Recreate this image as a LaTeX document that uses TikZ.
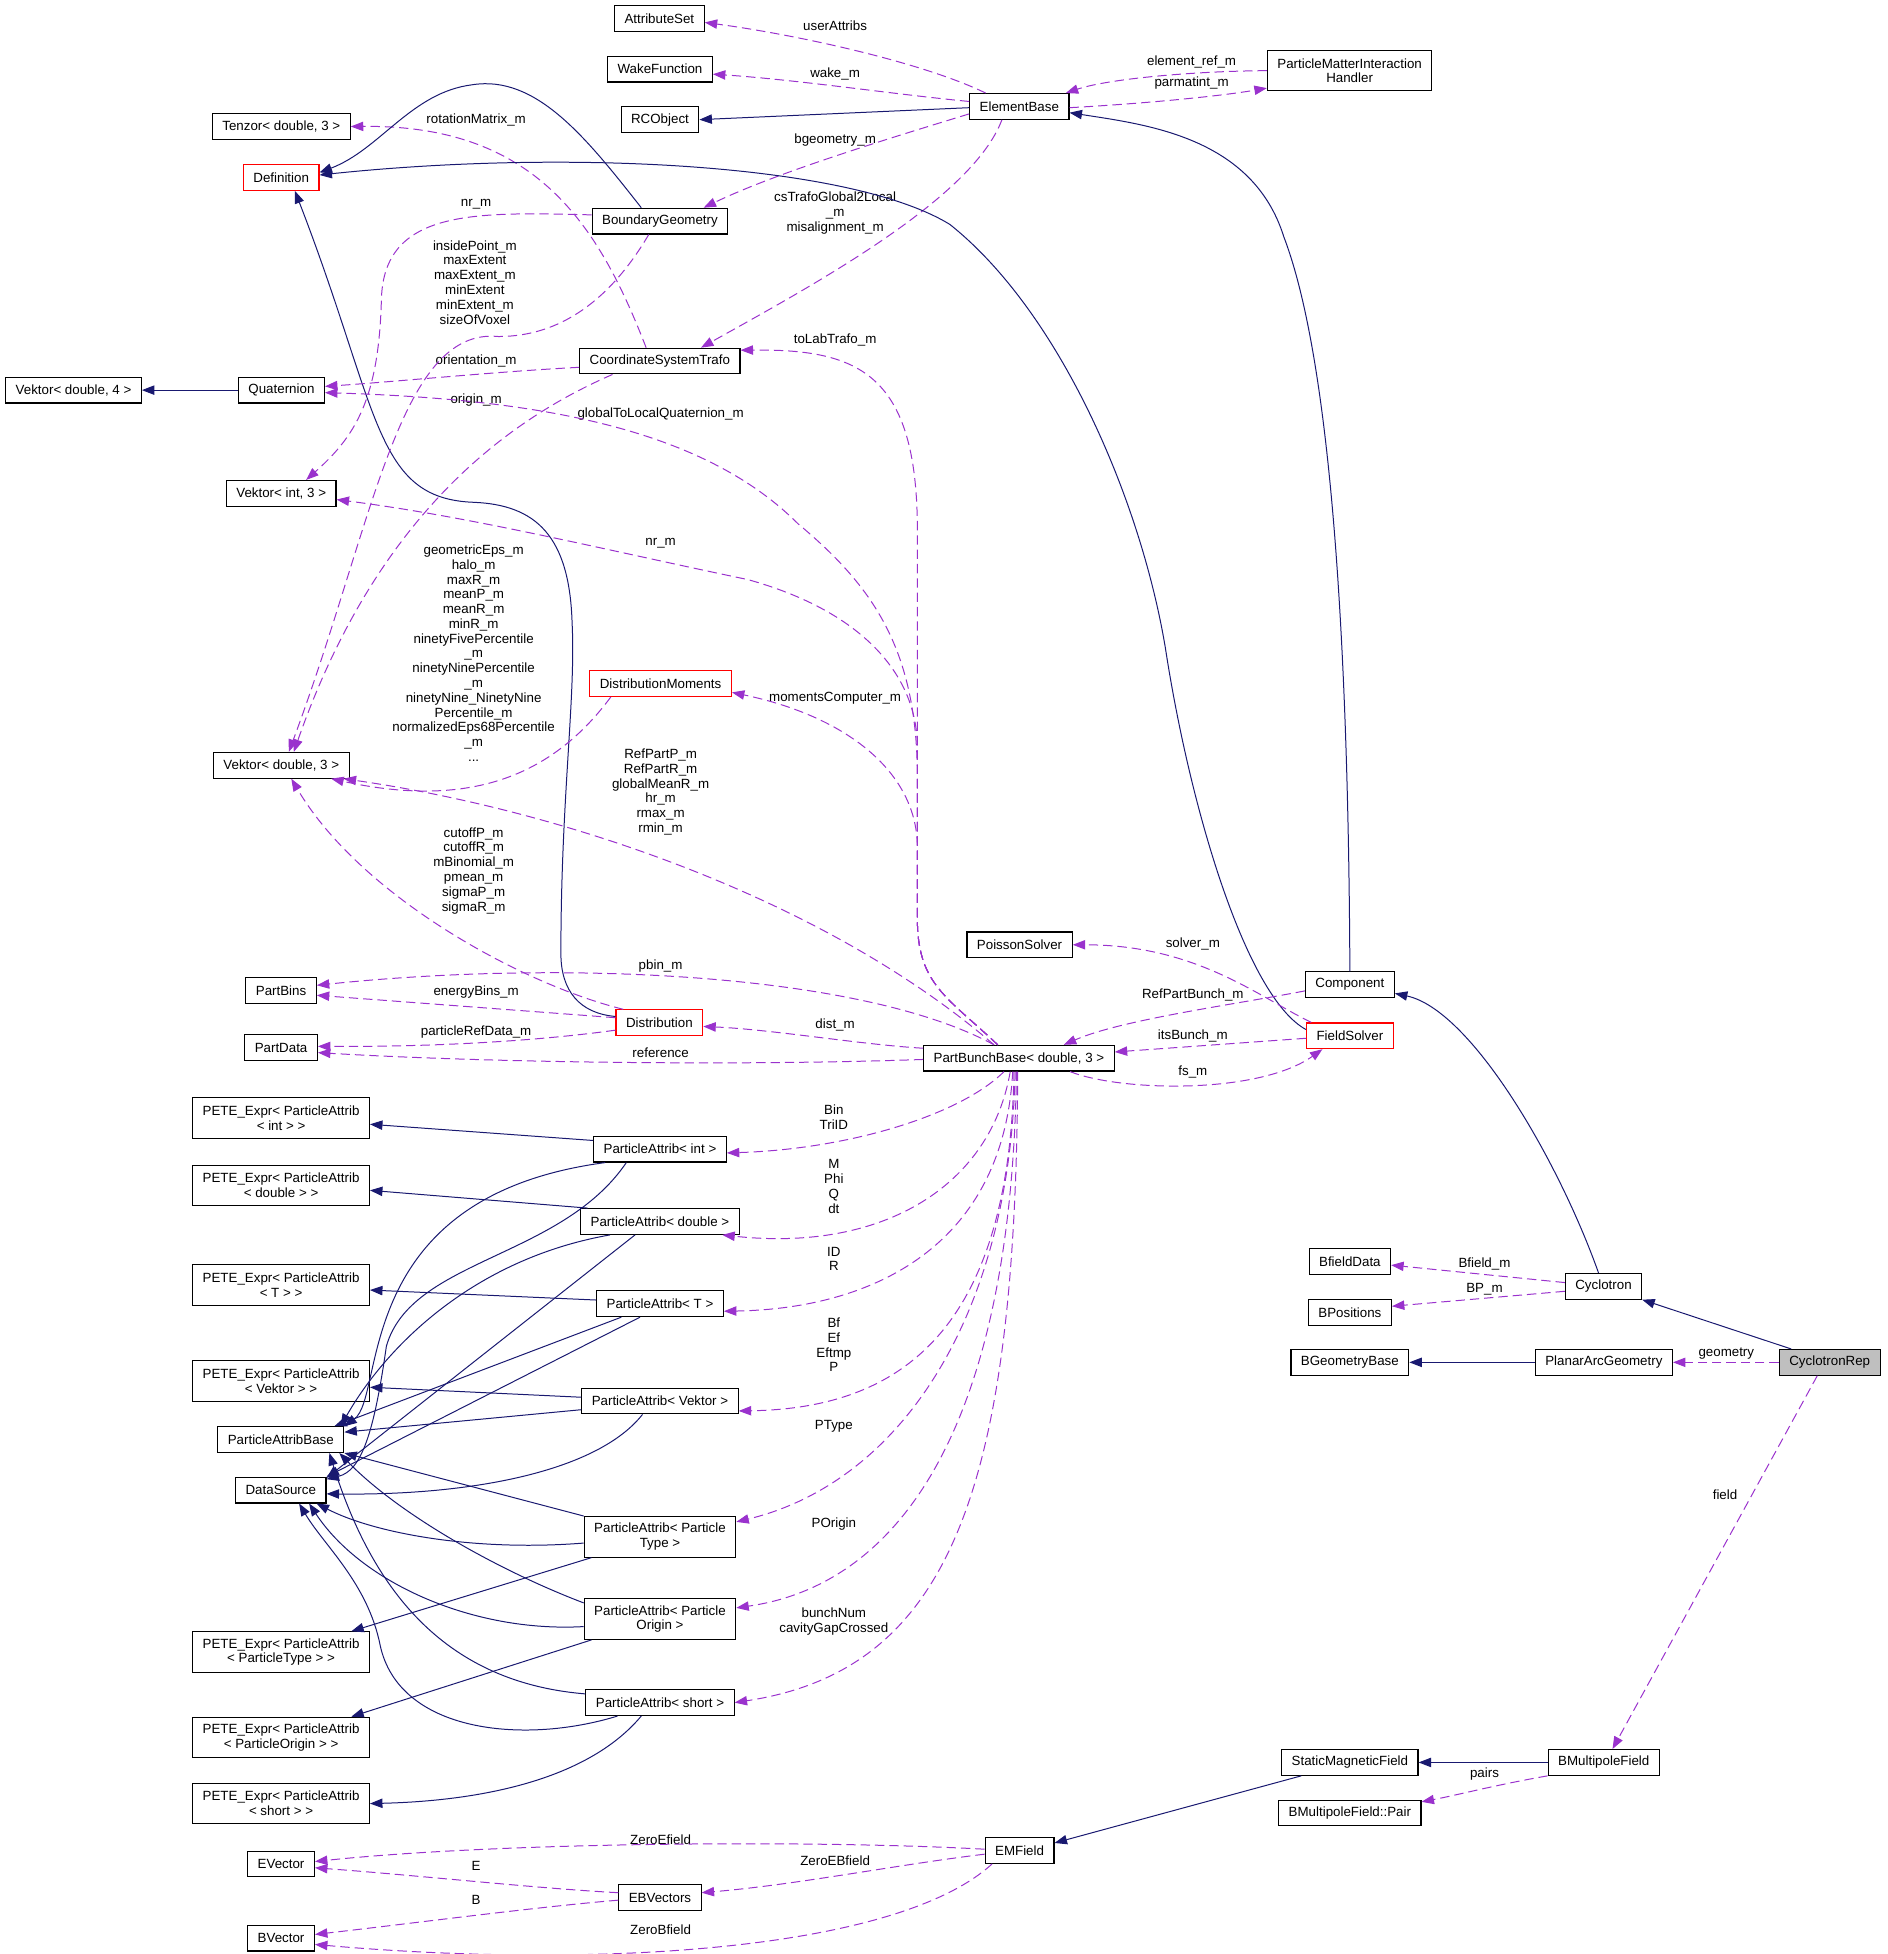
\documentclass[tikz,border=0pt]{standalone}
\usepackage{fontspec}
\setmainfont{Liberation Sans}
\usetikzlibrary{arrows.meta}
\definecolor{inhblue}{HTML}{191970}
\definecolor{usepurple}{HTML}{9A32CD}
\definecolor{docred}{HTML}{FF0000}
\definecolor{curgray}{HTML}{BFBFBF}

\begin{document}
\begin{tikzpicture}[
    x=1pt, y=-1pt,
    font=\fontsize{10.7}{11.86}\selectfont,
    cls/.style={draw=black, line width=0.9pt, fill=white, inner xsep=8pt, inner ysep=0pt, minimum height=20.6pt, align=center},
    cls2/.style={cls, minimum height=32.5pt},
    reddoc/.style={cls, draw=docred},
    current/.style={cls, fill=curgray},
    lbl/.style={inner sep=0pt, align=center},
    inh/.style={draw=inhblue, line width=0.8pt, -{Triangle[length=10pt,width=7.5pt]}},
    uses/.style={draw=usepurple, line width=0.8pt, dash pattern=on 7.5pt off 4pt, -{Triangle[length=10pt,width=7.5pt]}}
]
    \useasboundingbox (0,0) rectangle (1514,1567.7);

    \node[cls] (attrset) at (529,15) {AttributeSet};
    \node[cls] (wakefn) at (529.5,55.5) {WakeFunction};
    \node[cls] (rcobj) at (529.5,96) {RCObject};
    \node[cls] (elembase) at (817.8,85.4) {ElementBase};
    \node[cls2] (pmihandler) at (1082.8,56.7) {ParticleMatterInteraction\\Handler};
    \node[cls] (tenzor) at (225.7,101.5) {Tenzor< double, 3 >};
    \node[reddoc] (defn) at (225.6,142.4) {Definition};
    \node[cls] (boundgeo) at (529.5,177.4) {BoundaryGeometry};
    \node[cls] (cstrafo) at (529.4,289.7) {CoordinateSystemTrafo};
    \node[cls] (vekdfour) at (59,313) {Vektor< double, 4 >};
    \node[cls] (quat) at (225.8,313) {Quaternion};
    \node[cls] (vekithree) at (225.6,395.8) {Vektor< int, 3 >};
    \node[cls] (vekdthree) at (225.7,614) {Vektor< double, 3 >};
    \node[reddoc] (distmom) at (530,548.5) {DistributionMoments};
    \node[cls] (poisson) at (818,758) {PoissonSolver};
    \node[cls] (component) at (1083,790) {Component};
    \node[reddoc] (fieldsolver) at (1083,831) {FieldSolver};
    \node[cls] (partbins) at (225.5,794.5) {PartBins};
    \node[reddoc] (distrib) at (529,820.5) {Distribution};
    \node[cls] (partdata) at (225.5,840.5) {PartData};
    \node[cls] (partbunch) at (817.5,849) {PartBunchBase< double, 3 >};
    \node[cls2] (peteint) at (225.5,897) {PETE\_Expr< ParticleAttrib\\< int > >};
    \node[cls] (paint) at (529.5,922) {ParticleAttrib< int >};
    \node[cls2] (petedouble) at (225.5,951) {PETE\_Expr< ParticleAttrib\\< double > >};
    \node[cls] (padouble) at (529.5,980) {ParticleAttrib< double >};
    \node[cls2] (petet) at (225.5,1031) {PETE\_Expr< ParticleAttrib\\< T > >};
    \node[cls] (pat) at (529.5,1046) {ParticleAttrib< T >};
    \node[cls2] (petevek) at (225.5,1108) {PETE\_Expr< ParticleAttrib\\< Vektor > >};
    \node[cls] (pavek) at (529.5,1124) {ParticleAttrib< Vektor >};
    \node[cls] (pabase) at (225.3,1155) {ParticleAttribBase};
    \node[cls] (datasrc) at (225.3,1195.5) {DataSource};
    \node[cls2] (patype) at (529.5,1233) {ParticleAttrib< Particle\\Type >};
    \node[cls2] (paorigin) at (529.5,1299) {ParticleAttrib< Particle\\Origin >};
    \node[cls2] (petetype) at (225.5,1325.5) {PETE\_Expr< ParticleAttrib\\< ParticleType > >};
    \node[cls] (pashort) at (529.5,1366) {ParticleAttrib< short >};
    \node[cls2] (peteorigin) at (225.5,1394) {PETE\_Expr< ParticleAttrib\\< ParticleOrigin > >};
    \node[cls2] (peteshort) at (225.5,1447) {PETE\_Expr< ParticleAttrib\\< short > >};
    \node[cls] (evector) at (225.5,1495.5) {EVector};
    \node[cls] (ebvectors) at (529.5,1522.5) {EBVectors};
    \node[cls] (bvector) at (225.5,1555) {BVector};
    \node[cls] (emfield) at (818,1484.6) {EMField};
    \node[cls] (staticmag) at (1083,1414) {StaticMagneticField};
    \node[cls] (bmpair) at (1083,1454.6) {BMultipoleField::Pair};
    \node[cls] (bmfield) at (1286.7,1414) {BMultipoleField};
    \node[cls] (bfielddata) at (1083,1012) {BfieldData};
    \node[cls] (bpositions) at (1083,1053) {BPositions};
    \node[cls] (cyclotron) at (1286.5,1032) {Cyclotron};
    \node[cls] (bgeobase) at (1083,1093) {BGeometryBase};
    \node[cls] (planararc) at (1286.8,1093) {PlanarArcGeometry};
    \node[current] (cycrep) at (1468,1093) {CyclotronRep};

    \node[lbl] (luserattr) at (670,21) {userAttribs};
    \node[lbl] (lwake) at (670,59) {wake\_m};
    \node[lbl] (lelemref) at (956,50) {element\_ref\_m};
    \node[lbl] (lparmatint) at (956,67) {parmatint\_m};
    \node[lbl] (lrotmat) at (382,96) {rotationMatrix\_m};
    \node[lbl] (lbgeo) at (670,112) {bgeometry\_m};
    \node[lbl] (lnrbg) at (382,164) {nr\_m};
    \node[lbl] (lcstrafo) at (670,171) {csTrafoGlobal2Local\\\_m\\misalignment\_m};
    \node[lbl] (linside) at (381,226.5) {insidePoint\_m\\maxExtent\\maxExtent\_m\\minExtent\\minExtent\_m\\sizeOfVoxel};
    \node[lbl] (ltolab) at (670,273) {toLabTrafo\_m};
    \node[lbl] (lorient) at (382,290) {orientation\_m};
    \node[lbl] (lorigin) at (382,321) {origin\_m};
    \node[lbl] (lgloballocal) at (530,332) {globalToLocalQuaternion\_m};
    \node[lbl] (lnrpb) at (530,436) {nr\_m};
    \node[lbl] (lgeomeps) at (380,524) {geometricEps\_m\\halo\_m\\maxR\_m\\meanP\_m\\meanR\_m\\minR\_m\\ninetyFivePercentile\\\_m\\ninetyNinePercentile\\\_m\\ninetyNine\_NinetyNine\\Percentile\_m\\normalizedEps68Percentile\\\_m\\...};
    \node[lbl] (lmoments) at (670,560) {momentsComputer\_m};
    \node[lbl] (lrefpart) at (530,635.5) {RefPartP\_m\\RefPartR\_m\\globalMeanR\_m\\hr\_m\\rmax\_m\\rmin\_m};
    \node[lbl] (lcutoff) at (380,698.5) {cutoffP\_m\\cutoffR\_m\\mBinomial\_m\\pmean\_m\\sigmaP\_m\\sigmaR\_m};
    \node[lbl] (lsolver) at (957,757) {solver\_m};
    \node[lbl] (lpbin) at (530,775) {pbin\_m};
    \node[lbl] (lenergy) at (382,796) {energyBins\_m};
    \node[lbl] (lrefbunch) at (957,798) {RefPartBunch\_m};
    \node[lbl] (ldist) at (670,822) {dist\_m};
    \node[lbl] (lrefdata) at (382,828) {particleRefData\_m};
    \node[lbl] (litsbunch) at (957,831) {itsBunch\_m};
    \node[lbl] (lreference) at (530,845) {reference};
    \node[lbl] (lfs) at (957,860) {fs\_m};
    \node[lbl] (lbin) at (669,896) {Bin\\TriID};
    \node[lbl] (lmphi) at (669,952) {M\\Phi\\Q\\dt};
    \node[lbl] (lidr) at (669,1010) {ID\\R};
    \node[lbl] (lbfield) at (1191,1014) {Bfield\_m};
    \node[lbl] (lbp) at (1191,1034) {BP\_m};
    \node[lbl] (lbf) at (669,1079) {Bf\\Ef\\Eftmp\\P};
    \node[lbl] (lgeometry) at (1385,1086) {geometry};
    \node[lbl] (lptype) at (669,1144) {PType};
    \node[lbl] (lfield) at (1384,1199.5) {field};
    \node[lbl] (lporigin) at (669,1223) {POrigin};
    \node[lbl] (lbunchnum) at (669,1301) {bunchNum\\cavityGapCrossed};
    \node[lbl] (lpairs) at (1191,1423) {pairs};
    \node[lbl] (lzeroe) at (530,1476) {ZeroEfield};
    \node[lbl] (lzeroeb) at (670,1492.5) {ZeroEBfield};
    \node[lbl] (le) at (382,1497) {E};
    \node[lbl] (lb) at (382,1524) {B};
    \node[lbl] (lzerob) at (530,1548) {ZeroBfield};

    \draw[uses] ([xshift=-27pt]elembase.north) .. controls (740,50) and (640,28) .. ([yshift=-3pt]attrset.east);
    \draw[uses] ([yshift=4pt]elembase.west) .. controls (720,76) and (640,64) .. ([yshift=-4pt]wakefn.east);
    \draw[inh] ([yshift=-1pt]elembase.west) -- (rcobj.east);
    \draw[uses] (pmihandler.west) .. controls (960,57) and (890,63) .. ([xshift=-3pt]elembase.north east);
    \draw[uses] ([yshift=-1pt]elembase.east) .. controls (920,83) and (980,77) .. ([yshift=-14pt]pmihandler.west);
    \draw[uses] ([yshift=-6pt]elembase.west) .. controls (700,115) and (620,140) .. ([xshift=35pt]boundgeo.north);
    \draw[uses] ([xshift=-14pt]elembase.south) .. controls (780,160) and (650,230) .. ([xshift=33pt]cstrafo.north);
    \draw[uses] ([xshift=-11pt]cstrafo.north) .. controls (480,180) and (430,100) .. (tenzor.east);
    \draw[inh] ([xshift=-15pt]boundgeo.north) .. controls (470,110) and (430,60) .. (379,68)
        .. controls (330,74) and (305,120) .. ([yshift=4pt]defn.east);
    \draw[inh] ([yshift=5pt]fieldsolver.west) .. controls (1000,800) and (955,650) .. (935,520)
        .. controls (915,400) and (850,250) .. (762,180) .. controls (680,130) and (450,120) .. ([yshift=2pt]defn.east);
    \draw[inh] ([yshift=5pt]distrib.west) .. controls (465,813) and (450,795) .. (450,765)
        .. controls (450,640) and (462,560) .. (459,500) .. controls (457,430) and (430,405) .. (380,403)
        .. controls (300,400) and (305,330) .. ([xshift=11pt]defn.south);
    \draw[inh] (component.north) .. controls (1082,560) and (1072,300) .. (1030,190)
        .. controls (1005,110) and (920,100) .. ([yshift=-5pt]elembase.east);
    \draw[inh] ([xshift=-4pt]cyclotron.north) .. controls (1250,930) and (1180,810) .. ([yshift=-7pt]component.east);
    \draw[inh] ([xshift=-31pt]cycrep.north) -- (cyclotron.south east);
    \draw[inh] (planararc) -- (bgeobase);
    \draw[uses] (cycrep) -- (planararc);
    \draw[uses] ([xshift=-10pt]cycrep.south) -- ([xshift=7pt]bmfield.north);
    \draw[inh] (bmfield) -- (staticmag);
    \draw[uses] (bmfield.south west) .. controls (1200,1432) and (1170,1440) .. ([yshift=9pt]bmpair.east);
    \draw[inh] ([xshift=-39pt]staticmag.south) -- ([yshift=6pt]emfield.east);
    \draw[uses] ([yshift=1pt]emfield.west) .. controls (650,1476) and (400,1478) .. ([yshift=2pt]evector.east);
    \draw[uses] ([yshift=-3pt]emfield.west) .. controls (720,1496) and (640,1512) .. ([yshift=4pt]ebvectors.east);
    \draw[uses] ([xshift=-22pt]emfield.south) .. controls (720,1565) and (480,1580) .. ([yshift=-5pt]bvector.east);
    \draw[uses] ([yshift=4pt]ebvectors.west) .. controls (430,1515) and (340,1505) .. ([yshift=-3pt]evector.east);
    \draw[uses] ([yshift=-2pt]ebvectors.west) .. controls (430,1530) and (340,1542) .. ([yshift=3pt]bvector.east);
    \draw[uses] ([yshift=3pt]cyclotron.west) -- ([yshift=-3pt]bfielddata.east);
    \draw[uses] ([yshift=-4pt]cyclotron.west) -- ([yshift=5pt]bpositions.east);
    \draw[uses] ([yshift=-5pt]component.west) .. controls (990,806) and (900,818) .. ([xshift=36pt]partbunch.north);
    \draw[uses] ([yshift=-2pt]fieldsolver.west) -- ([yshift=5pt]partbunch.east);
    \draw[uses] ([xshift=41pt]partbunch.south) .. controls (900,876) and (1010,878) .. ([xshift=-22pt]fieldsolver.south);
    \draw[uses] ([xshift=-31pt]fieldsolver.north) .. controls (1010,800) and (960,758) .. (poisson.east);

    \draw[uses] ([xshift=-20pt]partbunch.north) .. controls (660,720) and (450,650) .. ([xshift=50pt]vekdthree.south);
    \draw[uses] ([xshift=-20pt]partbunch.north) .. controls (690,780) and (450,770) .. ([yshift=4pt]partbins.east);
    \draw[uses] ([xshift=-17pt]partbunch.north) .. controls (760,800) and (737,790) .. (736,740) -- (736,430)
        .. controls (737,300) and (690,280) .. ([yshift=-2pt]cstrafo.north east);
    \draw[uses] ([xshift=-17pt]partbunch.north) .. controls (760,800) and (737,790) .. (736,740) -- (736,620)
        .. controls (735,520) and (700,470) .. (640,420) .. controls (560,340) and (420,320) .. ([yshift=-2pt]quat.east);
    \draw[uses] ([xshift=-17pt]partbunch.north) .. controls (760,800) and (737,790) .. (736,740) -- (736,600)
        .. controls (736,540) and (690,490) .. (600,465) .. controls (480,440) and (380,415) .. ([yshift=-5pt]vekithree.east);
    \draw[uses] ([xshift=-17pt]partbunch.north) .. controls (760,800) and (737,790) .. (736,740) -- (736,680)
        .. controls (736,620) and (680,575) .. ([yshift=-7pt]distmom.east);
    \draw[uses] ([yshift=8pt]partbunch.west) .. controls (690,838) and (620,826) .. ([yshift=-3pt]distrib.east);
    \draw[uses] ([yshift=-1pt]partbunch.west) .. controls (600,855) and (400,853) .. ([yshift=-4pt]partdata.east);
    \draw[uses] ([yshift=4pt]distrib.west) -- ([yshift=-4pt]partbins.east);
    \draw[uses] ([yshift=-6pt]distrib.west) .. controls (440,834) and (360,840) .. ([yshift=1pt]partdata.east);
    \draw[uses] ([xshift=-29pt]distrib.north) .. controls (420,790) and (290,720) .. ([xshift=8pt]vekdthree.south);
    \draw[uses] ([xshift=-40pt]distmom.south) .. controls (445,620) and (380,650) .. ([xshift=40pt]vekdthree.south);
    \draw[uses] ([yshift=-5pt]cstrafo.west) .. controls (400,298) and (320,306) .. ([yshift=3pt]quat.east);
    \draw[uses] ([xshift=-38pt]cstrafo.south) .. controls (400,340) and (300,420) .. ([xshift=10pt]vekdthree.north);
    \draw[uses] ([xshift=-9pt]boundgeo.south) .. controls (490,240) and (450,270) .. (400,270)
        .. controls (320,262) and (300,420) .. ([xshift=6pt]vekdthree.north);
    \draw[uses] ([yshift=5pt]boundgeo.west) .. controls (380,170) and (308,168) .. (306,240)
        .. controls (304,320) and (285,350) .. ([xshift=20pt]vekithree.north);
    \draw[inh] (quat) -- (vekdfour);

    \draw[uses] ([xshift=-12pt]partbunch.south) .. controls (770,895) and (680,922) .. ([yshift=-3pt]paint.east);
    \draw[uses] ([xshift=-7pt]partbunch.south) .. controls (795,950) and (710,1005) .. ([xshift=50pt]padouble.south);
    \draw[uses] ([xshift=-5pt]partbunch.south) .. controls (805,1000) and (700,1050) .. ([yshift=-6pt]pat.east);
    \draw[uses] ([xshift=-4pt]partbunch.south) .. controls (810,1070) and (720,1130) .. ([yshift=-8pt]pavek.east);
    \draw[uses] ([xshift=-3pt]partbunch.south) .. controls (810,1060) and (720,1190) .. ([yshift=12pt]patype.east);
    \draw[uses] ([xshift=-2pt]partbunch.south) .. controls (812,1130) and (730,1270) .. ([yshift=9pt]paorigin.east);
    \draw[uses] ([xshift=-1pt]partbunch.south) .. controls (815,1200) and (760,1340) .. (pashort.east);

    \draw[inh] ([yshift=7pt]paint.west) -- ([yshift=-5pt]peteint.east);
    \draw[inh] ([xshift=-44pt]paint.south) .. controls (280,960) and (310,1120) .. (pabase.north east);
    \draw[inh] ([xshift=-27pt]paint.south) .. controls (450,1010) and (330,1010) .. (310,1080)
        .. controls (300,1150) and (290,1180) .. ([yshift=-2pt]datasrc.north east);
    \draw[inh] ([xshift=6pt]padouble.north west) -- ([yshift=-4pt]petedouble.east);
    \draw[inh] ([xshift=-40pt]padouble.south) .. controls (380,1010) and (310,1080) .. ([xshift=-3pt]pabase.north east);
    \draw[inh] ([xshift=-20pt]padouble.south) -- ([yshift=-1pt]datasrc.north east);
    \draw[inh] ([yshift=3pt]pat.west) -- ([yshift=-4pt]petet.east);
    \draw[inh] ([xshift=-31pt]pat.south) -- ([xshift=-8pt]pabase.north east);
    \draw[inh] ([xshift=-16pt]pat.south) -- (datasrc.north east);
    \draw[inh] ([yshift=3pt]pavek.west) -- ([yshift=-5pt]petevek.east);
    \draw[inh] ([yshift=-7pt]pavek.west) -- ([yshift=6pt]pabase.east);
    \draw[inh] ([xshift=-14pt]pavek.south) .. controls (480,1180) and (380,1200) .. ([yshift=-3pt]datasrc.east);
    \draw[inh] (patype.north west) -- (pabase.south east);
    \draw[inh] ([yshift=-5pt]patype.west) .. controls (380,1245) and (300,1230) .. ([xshift=-8pt]datasrc.south east);
    \draw[inh] ([xshift=-55pt]patype.south) -- ([xshift=-15pt]petetype.north east);
    \draw[inh] ([yshift=13pt]paorigin.west) .. controls (400,1260) and (320,1215) .. ([xshift=-4pt]pabase.south east);
    \draw[inh] ([yshift=-6pt]paorigin.west) .. controls (380,1310) and (290,1270) .. ([xshift=-14pt]datasrc.south east);
    \draw[inh] ([xshift=-55pt]paorigin.south) -- ([xshift=-15pt]peteorigin.north east);
    \draw[inh] ([yshift=7pt]pashort.west) .. controls (360,1350) and (300,1280) .. ([xshift=-12pt]pabase.south east);
    \draw[inh] ([xshift=-34pt]pashort.south) .. controls (420,1400) and (320,1390) .. (305,1320)
        .. controls (295,1270) and (260,1240) .. ([xshift=-22pt]datasrc.south east);
    \draw[inh] ([xshift=-15pt]pashort.south) .. controls (470,1430) and (380,1445) .. (peteshort.east);
\end{tikzpicture}
\end{document}
